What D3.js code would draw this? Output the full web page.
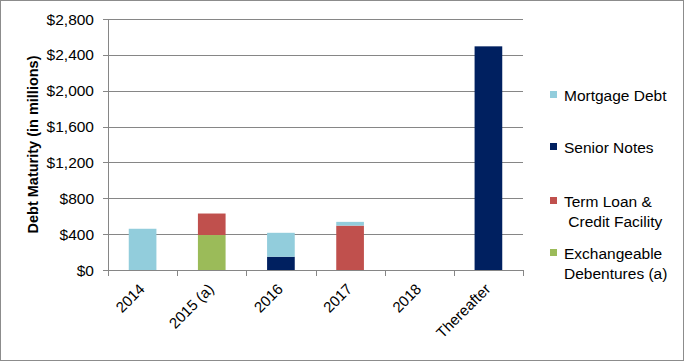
<!DOCTYPE html>
<html><head><meta charset="utf-8">
<script src="https://cdn.jsdelivr.net/npm/d3@7"></script>
<style>body{margin:0;background:#fff}svg{display:block;font-family:"Liberation Sans",Arial,sans-serif}</style>
</head><body><svg id="c" width="684" height="361"></svg>
<script>
const categories = ["2014","2015 (a)","2016","2017","2018","Thereafter"];
const exchangeable = [0, 390, 0, 0, 0, 0];
const termLoan = [0, 240, 0, 495, 0, 0];
const seniorNotes = [0, 0, 148, 0, 0, 2495];
const mortgage = [460, 0, 267, 42, 0, 0];
const yTicks = [0,400,800,1200,1600,2000,2400,2800];
const seriesKeys = ["exchangeable","termLoan","seniorNotes","mortgage"];
const colors = {exchangeable:"#9BBB59", termLoan:"#C0504D", seniorNotes:"#002060", mortgage:"#92CDDC"};

const rows = categories.map((c,i)=>({cat:c, exchangeable:exchangeable[i], termLoan:termLoan[i], seniorNotes:seniorNotes[i], mortgage:mortgage[i]}));
const svg = d3.select("#c");
const L=108, R=523, T=19, B=270;
svg.append("rect").attr("x",0.5).attr("y",0.5).attr("width",683).attr("height",360).attr("fill","#fff").attr("stroke","#8c8c8c");

const x = d3.scaleBand().domain(categories).range([L,R]).paddingInner(0.6).paddingOuter(0.3);
const xb = d3.scaleBand().domain(categories).range([L,R]);
const y = d3.scaleLinear().domain([0,2800]).range([B,T]);

svg.append("g").selectAll("line").data(yTicks).join("line")
  .attr("x1",L-5).attr("x2",R).attr("y1",d=>Math.round(y(d))+0.5).attr("y2",d=>Math.round(y(d))+0.5)
  .attr("stroke","#868686").attr("stroke-width",1);
svg.append("g").selectAll("text").data(yTicks).join("text")
  .attr("x",94).attr("y",d=>y(d)+5.5).attr("text-anchor","end").attr("font-size",15.5).attr("fill","#000")
  .text(d=>"$"+d3.format(",")(d));
svg.append("line").attr("x1",L+0.5).attr("x2",L+0.5).attr("y1",T).attr("y2",B).attr("stroke","#868686");

const stack = d3.stack().keys(seriesKeys)(rows);
svg.append("g").selectAll("g").data(stack).join("g").attr("fill",d=>colors[d.key])
  .selectAll("rect").data(d=>d).join("rect")
  .attr("x",d=>x(d.data.cat)).attr("width",x.bandwidth())
  .attr("y",d=>y(d[1])).attr("height",d=>y(d[0])-y(d[1]));

svg.append("line").attr("x1",L).attr("x2",R).attr("y1",B+0.5).attr("y2",B+0.5).attr("stroke","#868686");
const xt = categories.map(c=>xb(c)).concat([R]);
svg.append("g").selectAll("line").data(xt).join("line")
  .attr("x1",d=>Math.round(d)+0.5).attr("x2",d=>Math.round(d)+0.5).attr("y1",B).attr("y2",B+6).attr("stroke","#868686");
svg.append("g").selectAll("text").data(categories).join("text")
  .attr("transform",d=>`translate(${xb(d)+xb.bandwidth()/2+3},${B+20}) rotate(-45)`)
  .attr("text-anchor","end").attr("font-size",15).text(d=>d);

svg.append("text").attr("transform",`translate(38,${(T+B)/2}) rotate(-90)`).attr("text-anchor","middle")
  .attr("font-size",14.5).attr("font-weight","bold").text("Debt Maturity (in millions)");

const leg = [
  {k:"mortgage", lines:["Mortgage Debt"], y:96},
  {k:"seniorNotes", lines:["Senior Notes"], y:148},
  {k:"termLoan", lines:["Term Loan &"," Credit Facility"], y:202},
  {k:"exchangeable", lines:["Exchangeable","Debentures (a)"], y:254}
];
const lg = svg.append("g").selectAll("g").data(leg).join("g");
lg.append("rect").attr("x",550).attr("y",d=>d.y-5).attr("width",7).attr("height",7).attr("fill",d=>colors[d.k]);
lg.append("text").attr("font-size",15.5).attr("xml:space","preserve").selectAll("tspan").data(d=>d.lines.map((t,i)=>({t,i,y:d.y}))).join("tspan")
  .attr("x",564).attr("y",d=>d.y+5+d.i*20).text(d=>d.t);
</script></body></html>
